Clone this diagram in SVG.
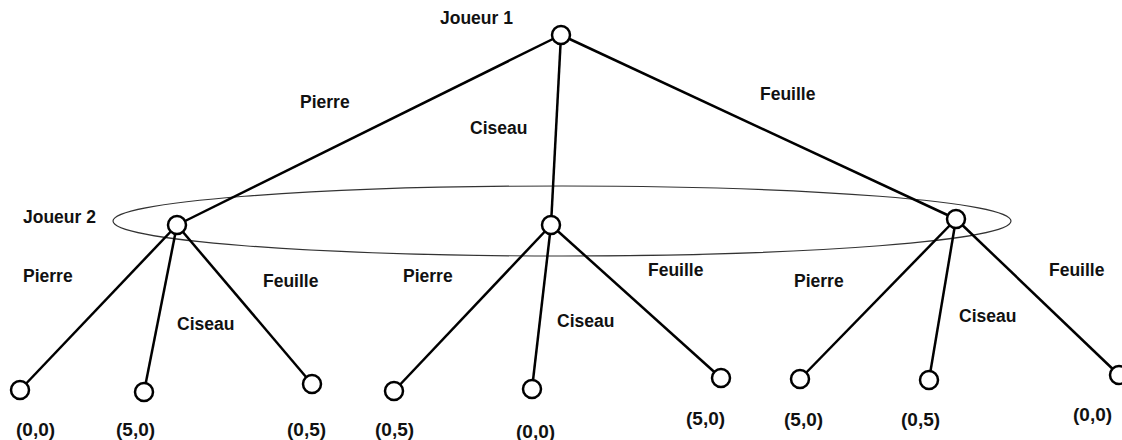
<svg xmlns="http://www.w3.org/2000/svg" width="1122" height="440" viewBox="0 0 1122 440">
<style>
.e{stroke:#000;stroke-width:2.5;fill:none}
.n{fill:#fff;stroke:#000;stroke-width:2.5}
.t{font-family:"Liberation Sans",Arial,sans-serif;font-weight:bold;font-size:17.5px;fill:#111}
.p{font-family:"Liberation Sans",Arial,sans-serif;font-weight:bold;font-size:19px;fill:#111}
</style>
<rect width="1122" height="440" fill="#fff"/>
<ellipse id="info-set" cx="562" cy="221" rx="449" ry="35" fill="none" stroke="#333" stroke-width="1.2"/>
<g id="connectors">
<line class="e" x1="561" y1="35" x2="177" y2="225"/>
<line class="e" x1="561" y1="35" x2="551" y2="225"/>
<line class="e" x1="561" y1="35" x2="956" y2="219"/>
<line class="e" x1="177" y1="225" x2="20" y2="390"/>
<line class="e" x1="177" y1="225" x2="144" y2="392"/>
<line class="e" x1="177" y1="225" x2="312" y2="384"/>
<line class="e" x1="551" y1="225" x2="394" y2="391"/>
<line class="e" x1="551" y1="225" x2="532" y2="389"/>
<line class="e" x1="551" y1="225" x2="721" y2="378"/>
<line class="e" x1="956" y1="219" x2="800" y2="379"/>
<line class="e" x1="956" y1="219" x2="929" y2="380"/>
<line class="e" x1="956" y1="219" x2="1119" y2="375"/>
</g>
<g id="root"><circle class="n" cx="561" cy="35" r="9"/><text class="t" x="440" y="24">Joueur 1</text></g>
<g id="p2-left"><circle class="n" cx="177" cy="225" r="9"/></g>
<g id="p2-mid"><circle class="n" cx="551" cy="225" r="9"/></g>
<g id="p2-right"><circle class="n" cx="956" cy="219" r="9"/></g>
<g id="labels">
<text class="t" x="300" y="108">Pierre</text>
<text class="t" x="470" y="134">Ciseau</text>
<text class="t" x="760" y="100">Feuille</text>
<text class="t" x="23" y="223">Joueur 2</text>
<text class="t" x="23" y="282">Pierre</text>
<text class="t" x="177" y="330">Ciseau</text>
<text class="t" x="263" y="287">Feuille</text>
<text class="t" x="403" y="282">Pierre</text>
<text class="t" x="557" y="327">Ciseau</text>
<text class="t" x="648" y="276">Feuille</text>
<text class="t" x="794" y="287">Pierre</text>
<text class="t" x="959" y="322">Ciseau</text>
<text class="t" x="1049" y="276">Feuille</text>
</g>
<g id="leaf1"><circle class="n" cx="20" cy="390" r="9"/><text class="p" x="16" y="436">(0,0)</text></g>
<g id="leaf2"><circle class="n" cx="144" cy="392" r="9"/><text class="p" x="116" y="436">(5,0)</text></g>
<g id="leaf3"><circle class="n" cx="312" cy="384" r="9"/><text class="p" x="287" y="436">(0,5)</text></g>
<g id="leaf4"><circle class="n" cx="394" cy="391" r="9"/><text class="p" x="375" y="436">(0,5)</text></g>
<g id="leaf5"><circle class="n" cx="532" cy="389" r="9"/><text class="p" x="516" y="438">(0,0)</text></g>
<g id="leaf6"><circle class="n" cx="721" cy="378" r="9"/><text class="p" x="686" y="425">(5,0)</text></g>
<g id="leaf7"><circle class="n" cx="800" cy="379" r="9"/><text class="p" x="784" y="426">(5,0)</text></g>
<g id="leaf8"><circle class="n" cx="929" cy="380" r="9"/><text class="p" x="901" y="426">(0,5)</text></g>
<g id="leaf9"><circle class="n" cx="1119" cy="375" r="9"/><text class="p" x="1073" y="421">(0,0)</text></g>
</svg>
